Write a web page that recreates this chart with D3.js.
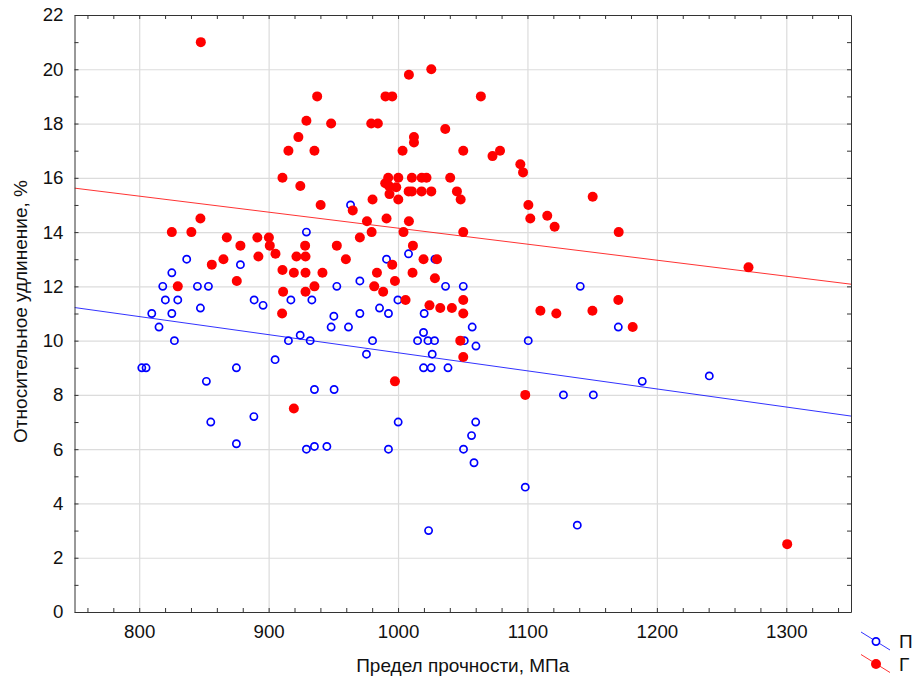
<!DOCTYPE html>
<html><head><meta charset="utf-8">
<script src="https://cdn.jsdelivr.net/npm/d3@7"></script>
<style>
html,body{margin:0;padding:0;background:#fff;}
svg{display:block;font-family:"Liberation Sans",Arial,sans-serif;}
</style></head>
<body><svg id="c" width="916" height="682"></svg>
<script>
// ---- data ----
const seriesNames = ["П", "Г"];
const xTickLabels = [800, 900, 1000, 1100, 1200, 1300];
const yTickLabels = [0, 2, 4, 6, 8, 10, 12, 14, 16, 18, 20, 22];
const xTitle = "Предел прочности, МПа";
const yTitle = "Относительное удлинение, %";

const pX = [836.7,825.2,878.2,818.2,845,853.5,820.2,829.8,847.3,888.8,895.7,917.2,809.7,825.2,815.3,827.2,915.3,924.4,905,
  963.3,929.2,1008.1,991.1,1028.5,952.7,970.5,1036.7,1050.4,933.4,999.9,985.7,992.6,950.4,970.5,1020.2,948.3,961.7,1019.7,
  1057.3,932.1,980.3,1015.1,1023.1,1028.2,1051.2,1060.2,975.6,1026.4,802,805.3,875.1,851.9,935.4,950.6,888.6,855.3,875.1,
  929.2,935.4,945,1019.7,1025.6,1038.6,1000.1,992.6,1060,1056.8,1050.6,1058.7,1023.6,1100.6,1140.8,1127.8,1150.9,1170.2,
  1188.7,1240.5,1098.3,1138.5];
const pY = [13.0,12.5,12.8,12.0,12.0,12.0,11.5,11.5,11.2,11.5,11.3,11.5,11.0,11.0,10.5,10.0,10.0,10.2,9.3,
  15.0,14.0,13.2,13.0,13.0,12.0,12.2,12.0,12.0,11.5,11.5,11.2,11.0,10.9,11.0,11.0,10.5,10.5,10.3,
  10.5,10.0,10.0,10.0,10.0,10.0,10.0,9.8,9.5,9.5,9.0,9.0,9.0,8.5,8.2,8.2,7.2,7.0,6.2,
  6.0,6.1,6.1,9.0,9.0,9.0,7.0,6.0,7.0,6.5,6.0,5.5,3.0,10.0,12.0,8.0,8.0,10.5,
  8.5,8.7,4.6,3.2];

const gX = [847.6,910.7,924.5,847.3,825.2,840.3,867.7,878.2,891.3,900.2,900.9,905.3,921.5,856.1,865.1,892.1,910.7,919.5,829.8,875.4,911.2,910.4,
  1008.4,1025.7,937.5,990.3,995.5,1064,929.2,948.3,979.3,984.4,923,1036.5,1012.3,1012.3,915.3,935.4,1003.5,1050.4,
  992.4,1000.2,1010.7,1018.3,1022,1040.3,990.1,993,998.6,993.4,1000.2,1008.2,1010.7,1018.2,1025.7,1045.5,1048.4,980.3,
  940.2,965,976,991.1,1008.4,979.6,1004.2,1050.4,970.5,928.2,952.7,1011.5,928.5,959.7,1019.7,1030.1,928.5,941.6,983.7,
  995.5,997.6,1011.2,1028.5,935.4,928.5,981.6,988.5,1005.8,1024.3,1032.6,1041.6,1050.4,1050.4,1048.1,1050.4,919.5,997.6,
  1073,1078.8,1094.5,1096.6,1100.7,1102.2,1115.3,1121,1150.4,1170.5,1098.3,1110,1122.3,1150.2,1170.2,1181.3,1270.8,1300.7];
const gY = [21.0,16.0,15.7,14.5,14.0,14.0,13.8,13.5,13.8,13.8,13.5,13.2,13.1,12.8,13.0,13.1,12.6,12.5,12.0,12.2,11.8,11.0,
  19.8,20.0,19.0,19.0,19.0,19.0,18.1,18.0,18.0,18.0,17.5,17.8,17.5,17.3,17.0,17.0,17.0,17.0,
  16.0,16.0,16.0,16.0,16.0,16.0,15.8,15.7,15.65,15.4,15.2,15.5,15.5,15.5,15.5,15.5,15.2,15.2,
  15.0,14.8,14.4,14.5,14.4,14.0,14.0,14.0,13.8,13.5,13.5,13.5,13.1,13.0,13.0,13.0,12.5,12.5,12.5,
  12.8,12.2,12.5,12.3,12.0,11.8,12.0,11.8,11.5,11.3,11.2,11.2,11.5,11.0,10.0,9.4,7.5,8.5,
  16.8,17.0,16.5,16.2,15.0,14.5,14.6,14.2,15.3,14.0,8.0,11.1,11.0,11.1,11.5,10.5,12.7,2.5];

// fitted lines (value at x=750 and x=1350)
const fitX = [750, 1350];
const fitP = [11.22, 7.22];
const fitG = [15.62, 12.08];

// ---- layout ----
const svg = d3.select("#c");
const L = 74.5, R = 851, T = 15, B = 612;
const x = d3.scaleLinear().domain([750, 1350]).range([L, R]);
const y = d3.scaleLinear().domain([0, 22]).range([B, T]);

const blue = "#0000ff", red = "#ff0000";
const tickFont = 18.7, titleFont = 19;

// grid
svg.append("g").attr("transform", `translate(0,${B})`)
  .call(d3.axisBottom(x).tickValues(xTickLabels).tickSize(-(B - T)).tickFormat(""))
  .call(g => { g.select(".domain").remove(); g.selectAll("line").attr("stroke", "#dcdcdc").attr("stroke-width", 1.2); });
svg.append("g").attr("transform", `translate(${L},0)`)
  .call(d3.axisLeft(y).tickValues(yTickLabels.filter(v => v > 0 && v < 22)).tickSize(-(R - L)).tickFormat(""))
  .call(g => { g.select(".domain").remove(); g.selectAll("line").attr("stroke", "#dcdcdc").attr("stroke-width", 1.2); });

// fit lines
const clipId = "clipPlot";
svg.append("clipPath").attr("id", clipId).append("rect").attr("x", L).attr("y", T).attr("width", R - L).attr("height", B - T);
const lineG = svg.append("g").attr("clip-path", `url(#${clipId})`);
lineG.append("line").attr("x1", x(fitX[0])).attr("x2", x(fitX[1])).attr("y1", y(fitP[0])).attr("y2", y(fitP[1]))
  .attr("stroke", blue).attr("stroke-width", 1).attr("opacity", 0.8);
lineG.append("line").attr("x1", x(fitX[0])).attr("x2", x(fitX[1])).attr("y1", y(fitG[0])).attr("y2", y(fitG[1]))
  .attr("stroke", red).attr("stroke-width", 1).attr("opacity", 0.8);

// points
const P = pX.map((v, i) => ({ x: v, y: pY[i] }));
const G = gX.map((v, i) => ({ x: v, y: gY[i] }));
svg.append("g").selectAll("circle").data(P).join("circle")
  .attr("cx", d => x(d.x)).attr("cy", d => y(d.y)).attr("r", 3.6)
  .attr("fill", "none").attr("stroke", blue).attr("stroke-width", 1.7);
svg.append("g").selectAll("circle").data(G).join("circle")
  .attr("cx", d => x(d.x)).attr("cy", d => y(d.y)).attr("r", 5)
  .attr("fill", red);

// frame + ticks
const minorX = d3.range(760, 1341, 20);
const minorY = d3.range(0, 23, 1);
const axStyle = g => { g.select(".domain").attr("stroke", "#333"); g.selectAll(".tick line").attr("stroke", "#333"); };
svg.append("g").attr("transform", `translate(0,${B})`)
  .call(d3.axisBottom(x).tickValues(minorX).tickSize(-4).tickSizeOuter(0).tickFormat("")).call(axStyle);
svg.append("g").attr("transform", `translate(0,${T})`)
  .call(d3.axisTop(x).tickValues(minorX).tickSize(-4).tickSizeOuter(0).tickFormat("")).call(axStyle);
svg.append("g").attr("transform", `translate(${L},0)`)
  .call(d3.axisLeft(y).tickValues(minorY).tickSize(-4).tickSizeOuter(0).tickFormat("")).call(axStyle);
svg.append("g").attr("transform", `translate(${R},0)`)
  .call(d3.axisRight(y).tickValues(minorY).tickSize(-4).tickSizeOuter(0).tickFormat("")).call(axStyle);

// labels
svg.append("g").attr("transform", `translate(0,${B})`)
  .call(d3.axisBottom(x).tickValues(xTickLabels).tickSize(0).tickPadding(13).tickFormat(d3.format("d")))
  .call(g => { g.select(".domain").remove(); g.selectAll("text").attr("font-size", tickFont).attr("fill", "#111").attr("font-family", "Liberation Sans, Arial, sans-serif"); });
svg.append("g").attr("transform", `translate(${L},0)`)
  .call(d3.axisLeft(y).tickValues(yTickLabels).tickSize(0).tickPadding(11).tickFormat(d3.format("d")))
  .call(g => { g.select(".domain").remove(); g.selectAll("text").attr("font-size", tickFont).attr("fill", "#111").attr("font-family", "Liberation Sans, Arial, sans-serif"); });

svg.append("text").attr("x", (L + R) / 2).attr("y", 672).attr("text-anchor", "middle")
  .attr("font-size", titleFont).attr("fill", "#111").text(xTitle);
svg.append("text").attr("transform", `translate(27,${(T + B) / 2 - 2}) rotate(-90)`).attr("text-anchor", "middle")
  .attr("font-size", titleFont).attr("fill", "#111").text(yTitle);

// legend
const leg = svg.append("g");
[[blue, 641.5, true], [red, 664, false]].forEach(([c, cy, open], i) => {
  leg.append("line").attr("x1", 861).attr("x2", 890).attr("y1", cy - 9.5).attr("y2", cy + 8.5)
    .attr("stroke", c).attr("stroke-width", 1).attr("opacity", 0.8);
  if (open) leg.append("circle").attr("cx", 876).attr("cy", cy).attr("r", 3.6).attr("fill", "#fff").attr("stroke", c).attr("stroke-width", 1.7);
  else leg.append("circle").attr("cx", 876).attr("cy", cy).attr("r", 5).attr("fill", c);
  leg.append("text").attr("x", 899).attr("y", cy + 6.5).attr("font-size", 19).attr("fill", "#111").text(seriesNames[i]);
});
</script></body></html>
